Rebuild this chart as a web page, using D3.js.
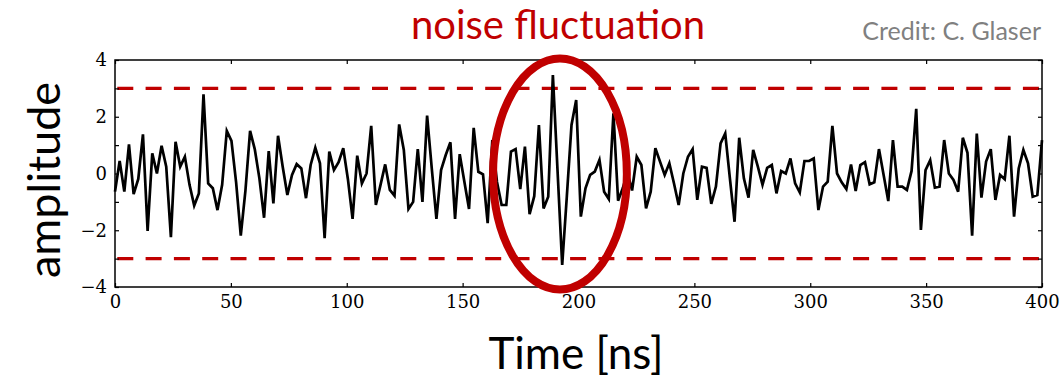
<!DOCTYPE html>
<html>
<head>
<meta charset="utf-8">
<script src="https://cdn.jsdelivr.net/npm/d3@7"></script>
<style>
  html, body { margin: 0; padding: 0; background: #fff; }
  svg { display: block; }
</style>
</head>
<body>
<svg id="chart" width="1063" height="384"></svg>
<script>
// ---- data ----
const amplitude = [
  -0.64, 0.44, -0.64, 1.03, -0.73, -0.19, 1.38, -2.02, 0.71, 0.00,
   0.98, 0.24, -2.24, 1.12, 0.24, 0.59, -0.40, -1.13, -0.70, 2.79,
  -0.35, -0.52, -1.29, -0.40, 1.50, 1.15, -0.31, -2.19, -0.60, 1.50,
   0.86, -0.17, -1.56, 0.79, -1.05, 1.33, 0.24, -0.76, -0.05, 0.33,
   0.18, -0.87, 0.30, 0.91, 0.36, -2.28, 0.77, 0.12, 0.40, 0.89,
  -0.20, -1.60, 0.63, -0.35, 0.00, 1.68, -1.11, -0.40, 0.32, -0.58,
  -0.78, 1.73, 0.83, -1.25, -1.00, 0.86, -1.00, 2.04, 0.18, -1.60,
   0.12, 0.65, 1.10, -1.60, 0.68, -0.29, -1.25, 1.61, 0.06, -0.03,
  -1.75, 1.18, -0.30, -1.11, -1.11, 0.77, 0.86, -0.55, 0.95, -1.43,
  -0.80, 1.71, -1.23, -0.82, 3.47, 0.10, -3.22, -0.80, 1.71, 2.59,
  -1.52, -0.52, -0.05, 0.07, 0.48, -0.64, -0.90, 2.12, -0.96, -0.52,
   0.05, -0.60, 0.59, 0.30, -1.23, -0.64, 0.89, 0.42, -0.05, 0.36,
  -0.35, -1.11, 0.00, 0.59, 0.86, -0.93, 0.24, 0.20, -1.07, -0.46,
   1.06, 1.41, -0.17, -1.70, 1.26, -0.17, -0.85, 0.83, 0.24, -0.40,
   0.20, 0.30, -0.70, 0.09, 0.00, 0.53, -0.35, -0.67, 0.44, 0.44,
   0.53, -1.29, -0.46, -0.29, 1.68, 0.00, -0.31, -0.55, 0.32, -0.62,
   0.30, 0.40, -0.38, -0.31, 0.86, -0.05, -0.97, 1.18, -0.46, -0.46,
  -0.58, 0.09, 2.28, -1.99, 0.12, 0.47, -0.50, -0.46, 1.18, 0.00,
  -0.23, -0.64, 1.26, 0.73, -2.19, 1.41, -0.85, 0.42, 0.86, -0.93,
  -0.05, -0.20, 1.33, -1.52, 0.18, 0.83, 0.36, -0.82, -0.76, 1.18
];
const timeStart = 0;
const timeEnd = 400;           // ns, samples spread evenly over this span
const thresholds = [3, -3];
const xTickValues = [0, 50, 100, 150, 200, 250, 300, 350, 400];
const yTickLabelValues = [-4, -2, 0, 2, 4];
const yTickValues = [-4, -3, -2, -1, 0, 1, 2, 3, 4];
const xDomain = [0, 400];
const yDomain = [-4, 4];
const titleText = "noise fluctuation";
const creditText = "Credit: C. Glaser";
const xLabelText = "Time [ns]";
const yLabelText = "amplitude";
const highlightRange = { t0: 164, t1: 220, a0: -4, a1: 4 }; // region circled (data coords)

// ---- layout ----
const L = 115, R = 1042, T = 60, B = 287;
const svg = d3.select("#chart");
const x = d3.scaleLinear().domain(xDomain).range([L, R]);
const y = d3.scaleLinear().domain(yDomain).range([B, T]);
const times = d3.range(amplitude.length).map(i => timeStart + i * (timeEnd - timeStart) / (amplitude.length - 1));

const RED = "#c00000";
const tickFont = "'DejaVu Serif', serif";
const labelFont = "Lato, 'Open Sans', sans-serif";

// threshold lines
svg.append("g").selectAll("line").data(thresholds).join("line")
  .attr("x1", x(xDomain[0])).attr("x2", x(xDomain[1]))
  .attr("y1", d => y(d)).attr("y2", d => y(d))
  .attr("stroke", RED).attr("stroke-width", 3.4)
  .attr("stroke-dasharray", "16,12.3")
  .attr("stroke-dashoffset", -2.3);

// trace
const line = d3.line().x((d, i) => x(times[i])).y(d => y(d));
svg.append("path").datum(amplitude)
  .attr("d", line)
  .attr("fill", "none").attr("stroke", "#000").attr("stroke-width", 2.7)
  .attr("stroke-linejoin", "miter").attr("stroke-miterlimit", 4);

// axes
function styleAxis(g) {
  g.select(".domain").remove();
  g.selectAll(".tick line").attr("stroke", "#000").attr("stroke-width", 1.2);
  g.selectAll(".tick text").attr("font-family", tickFont).attr("font-size", 18).attr("fill", "#000");
}
const fmt = d3.format("d");
svg.append("g").attr("transform", `translate(0,${B})`)
  .call(d3.axisBottom(x).tickValues(xTickValues).tickFormat(fmt).tickSizeInner(-4).tickSizeOuter(0).tickPadding(8))
  .call(styleAxis);
svg.append("g").attr("transform", `translate(0,${T})`)
  .call(d3.axisTop(x).tickValues(xTickValues).tickFormat("").tickSizeInner(-4).tickSizeOuter(0))
  .call(styleAxis);
svg.append("g").attr("transform", `translate(${L},0)`)
  .call(d3.axisLeft(y).tickValues(yTickValues)
    .tickFormat(d => yTickLabelValues.includes(d) ? d3.format("d")(d) : "")
    .tickSizeInner(-4).tickSizeOuter(0).tickPadding(8))
  .call(styleAxis);
svg.append("g").attr("transform", `translate(${R},0)`)
  .call(d3.axisRight(y).tickValues(yTickValues).tickFormat("").tickSizeInner(-4).tickSizeOuter(0))
  .call(styleAxis);

// frame
svg.append("rect").attr("x", L).attr("y", T).attr("width", R - L).attr("height", B - T)
  .attr("fill", "none").attr("stroke", "#000").attr("stroke-width", 1.5);

// highlight ellipse
const ex0 = x(highlightRange.t0), ex1 = x(highlightRange.t1);
const ey0 = y(highlightRange.a1), ey1 = y(highlightRange.a0);
svg.append("ellipse")
  .attr("cx", (ex0 + ex1) / 2).attr("cy", (ey0 + ey1) / 2 + 0.5)
  .attr("rx", (ex1 - ex0) / 2 + 2).attr("ry", (ey1 - ey0) / 2 + 2)
  .attr("fill", "none").attr("stroke", RED).attr("stroke-width", 8);

// texts
svg.append("text").text(titleText)
  .attr("x", 558).attr("y", 39).attr("text-anchor", "middle")
  .attr("font-family", labelFont).attr("font-size", 40).attr("fill", RED);
svg.append("text").text(creditText)
  .attr("x", 1041).attr("y", 40).attr("text-anchor", "end")
  .attr("font-family", labelFont).attr("font-size", 25).attr("fill", "#808080");
svg.append("text").text(xLabelText)
  .attr("x", 576).attr("y", 369).attr("text-anchor", "middle")
  .attr("font-family", labelFont).attr("font-size", 44).attr("fill", "#000");
svg.append("text").text(yLabelText)
  .attr("transform", "translate(60,180) rotate(-90)").attr("text-anchor", "middle")
  .attr("font-family", labelFont).attr("font-size", 45).attr("fill", "#000");
</script>
</body>
</html>
